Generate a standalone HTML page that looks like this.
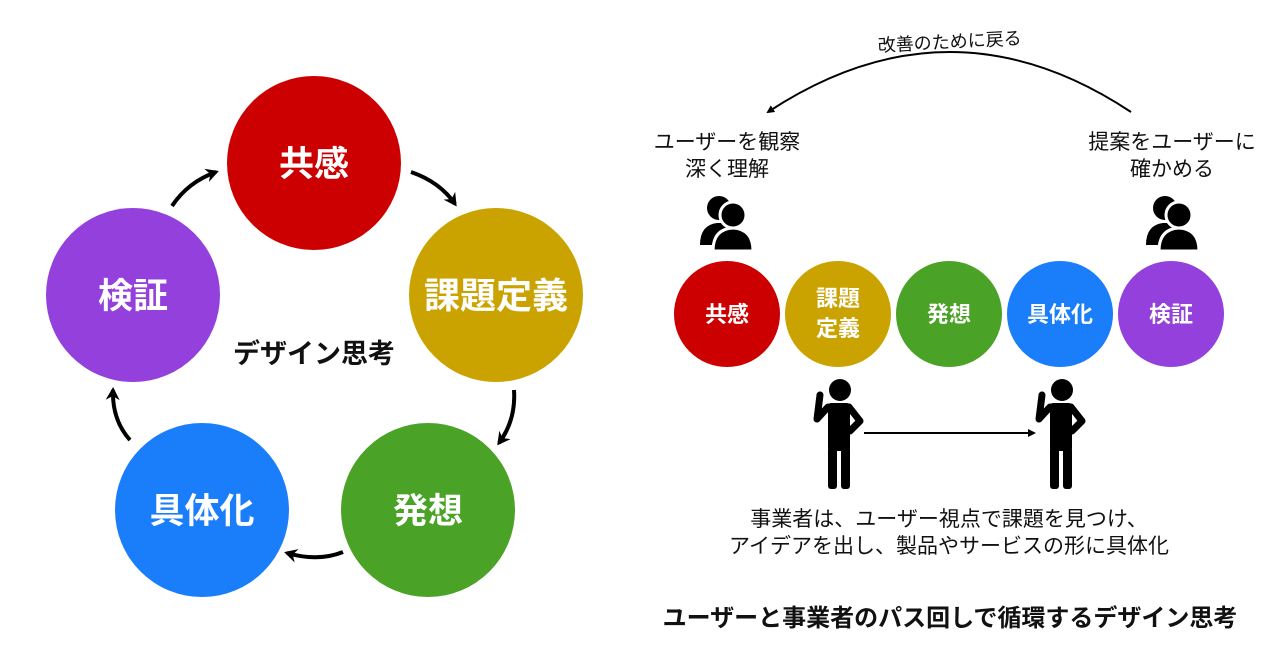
<!DOCTYPE html>
<html><head><meta charset="utf-8"><style>
html,body{margin:0;padding:0;background:#fff;}
svg{display:block;font-family:"Liberation Sans","Noto Sans CJK JP",sans-serif;}
</style></head><body>
<svg width="1280" height="670" viewBox="0 0 1280 670" xmlns="http://www.w3.org/2000/svg">
<defs>
<marker id="ah" markerWidth="8" markerHeight="8" refX="6" refY="4" orient="auto" markerUnits="userSpaceOnUse">
<path d="M0,0 L8,4 L0,8 Z" fill="#000"/></marker>
<marker id="ab" markerWidth="14" markerHeight="14" refX="10" refY="7" orient="auto" markerUnits="userSpaceOnUse">
<path d="M0,0 L13,7 L0,14 L4,7 Z" fill="#000"/></marker>
<g id="pp">
<circle cx="-8" cy="-15" r="12" fill="#000"/>
<path d="M-27,22 Q-27,2 -10,0 L0,0 Q8,10 6,22 Z" fill="#000"/>
<circle cx="6" cy="-8" r="13" stroke="#fff" stroke-width="3" fill="#000"/>
<path d="M-14,28 Q-14,6 6,5 Q26,6 26,28 Z" stroke="#fff" stroke-width="3" fill="#000"/>
</g>
<g id="st">
<circle cx="0" cy="-45" r="11" fill="#000"/>
<rect x="-12" y="-32" width="22" height="48" rx="3" fill="#000"/>
<path d="M-12,-28 L-23,-16 L-20,-40" stroke="#000" stroke-width="7" fill="none" stroke-linecap="round" stroke-linejoin="round"/>
<path d="M9,-28 L20,-14 L10,-4" stroke="#000" stroke-width="7" fill="none" stroke-linecap="round" stroke-linejoin="round"/>
<rect x="-12" y="12" width="9" height="42" rx="3" fill="#000"/>
<rect x="1" y="12" width="9" height="42" rx="3" fill="#000"/>
</g>
</defs>

<!-- left cycle -->
<g font-weight="bold" fill="#fff" text-anchor="middle" font-size="35">
<circle cx="314" cy="163" r="87" fill="#cc0000"/>
<text x="314" y="176">共感</text>
<circle cx="496" cy="295" r="87" fill="#cba300"/>
<text x="496" y="308" font-size="36">課題定義</text>
<circle cx="428" cy="510" r="87" fill="#4aa326"/>
<text x="428" y="523">発想</text>
<circle cx="202" cy="510" r="87" fill="#1a7dfa"/>
<text x="202" y="523">具体化</text>
<circle cx="133" cy="295" r="87" fill="#9340dc"/>
<text x="133" y="308">検証</text>
</g>
<text x="314" y="363" text-anchor="middle" font-size="27" font-weight="bold" fill="#111">デザイン思考</text>
<g stroke="#000" stroke-width="4" fill="none" marker-end="url(#ab)">
<path d="M411,172 Q440,182 455,204"/>
<path d="M514,390 Q516,420 499,443"/>
<path d="M343,552 Q318,562 287,553"/>
<path d="M130,440 Q112,420 113,390"/>
<path d="M172,206 Q188,182 216,172"/>
</g>

<!-- right -->
<path d="M1131,112 Q950,-8 768,112" stroke="#000" stroke-width="2" fill="none" marker-end="url(#ah)"/>
<text x="950" y="48" text-anchor="middle" font-size="18" fill="#111" transform="rotate(-3 950 48)">改善のために戻る</text>
<g font-size="21" fill="#111" text-anchor="middle">
<text x="727" y="149">ユーザーを観察</text>
<text x="727" y="176">深く理解</text>
<text x="1172" y="149">提案をユーザーに</text>
<text x="1172" y="176">確かめる</text>
</g>
<use href="#pp" x="727" y="223"/>
<use href="#pp" x="1173" y="223"/>

<g font-weight="bold" fill="#fff" text-anchor="middle" font-size="22">
<circle cx="727" cy="314" r="53" fill="#cc0000"/>
<text x="727" y="322">共感</text>
<circle cx="838" cy="314" r="53" fill="#cba300"/>
<text x="838" y="306">課題</text>
<text x="838" y="336">定義</text>
<circle cx="949" cy="314" r="53" fill="#4aa326"/>
<text x="949" y="322">発想</text>
<circle cx="1060" cy="314" r="53" fill="#1a7dfa"/>
<text x="1060" y="322">具体化</text>
<circle cx="1171" cy="314" r="53" fill="#9340dc"/>
<text x="1171" y="322">検証</text>
</g>

<use href="#st" x="840" y="435"/>
<use href="#st" x="1062" y="435"/>
<line x1="864" y1="433" x2="1034" y2="433" stroke="#000" stroke-width="2" marker-end="url(#ah)"/>

<g font-size="21" fill="#111" text-anchor="middle">
<text x="949" y="526">事業者は、ユーザー視点で課題を見つけ、</text>
<text x="949" y="553">アイデアを出し、製品やサービスの形に具体化</text>
</g>
<text x="950" y="626" text-anchor="middle" font-size="24" font-weight="bold" fill="#111">ユーザーと事業者のパス回しで循環するデザイン思考</text>
</svg>
</body></html>
